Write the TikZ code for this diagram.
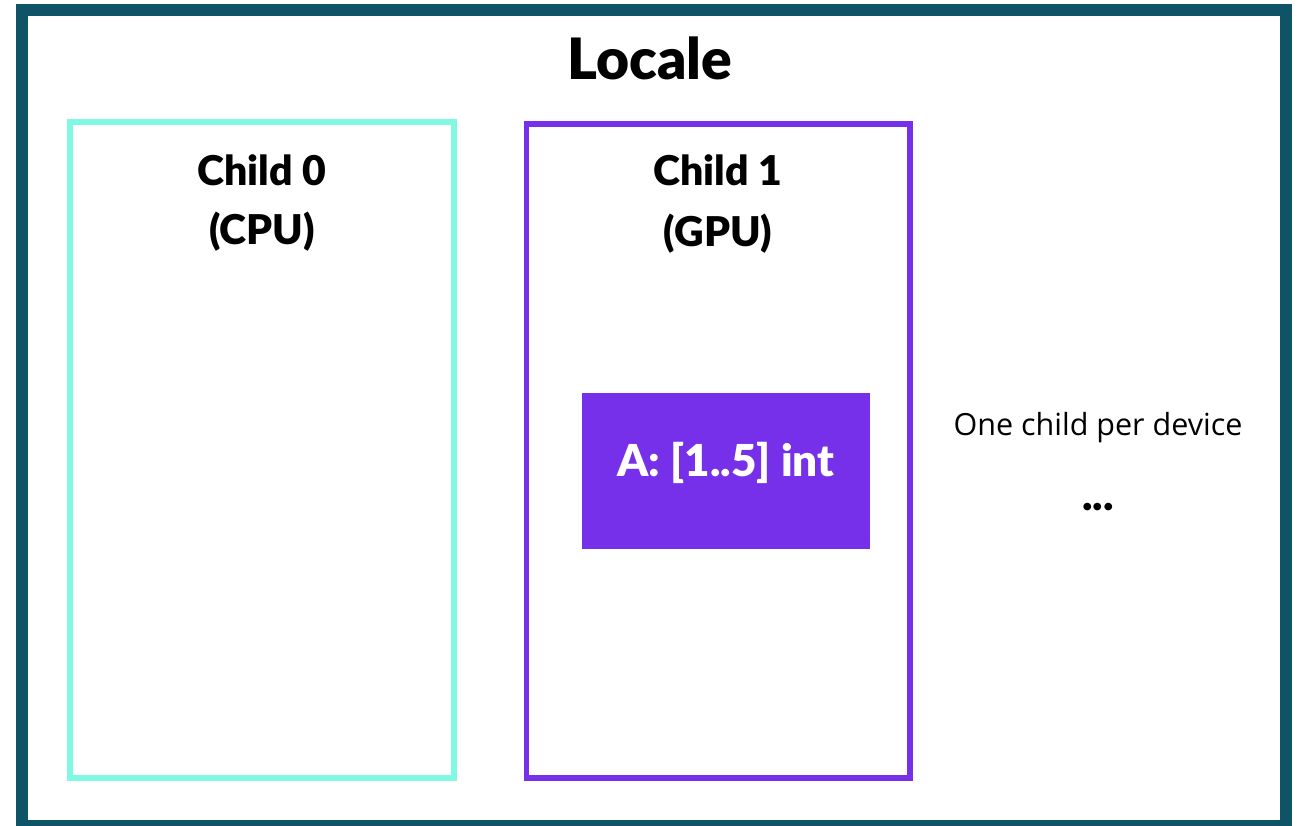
\documentclass[tikz,border=0pt]{standalone}
\usepackage{fontspec}
\setmainfont{Lato}[BoldFont={Lato Black}]
\newfontfamily\regfont{Open Sans}
\definecolor{teal}{HTML}{0F5466}
\definecolor{cyanbox}{HTML}{80F9E2}
\definecolor{purplebox}{HTML}{7630EA}
\begin{document}
\begin{tikzpicture}[x=1pt,y=-1pt,
  childbox/.style={draw, line width=5.5pt},
  heading/.style={font=\fontsize{41}{49}\selectfont\bfseries, anchor=center, inner sep=0pt},
]
\useasboundingbox (0,0) rectangle (1301,826);
\fill[white] (0,0) rectangle (1301,826);
\draw[teal, line width=12pt] (22,10) rectangle (1286,826);
\node[heading, font=\fontsize{57}{62}\selectfont\bfseries] (title) at (650,58) {Locale};
\draw[childbox, cyanbox] (70,122) rectangle (454,778);
\node[heading] (child0) at (262,170) {Child 0};
\node[heading] (cpu) at (262,232) {(CPU)};
\draw[childbox, purplebox] (526.5,124) rectangle (910,778);
\node[heading] (child1) at (718,170) {Child 1};
\node[heading] (gpu) at (718,234) {(GPU)};
\fill[purplebox] (582,393) rectangle (870,549);
\node[heading, text=white, font=\fontsize{44}{50}\selectfont\bfseries] (arr) at (726,463) {A: [1..5] int};
\node[font=\regfont\fontsize{30.5}{36}\selectfont, inner sep=0pt] (note) at (1098,428) {One child per device};
\node[font=\fontsize{44}{48}\selectfont\bfseries, inner sep=0pt, anchor=base] (dots) at (1098,510) {...};
\end{tikzpicture}
\end{document}
